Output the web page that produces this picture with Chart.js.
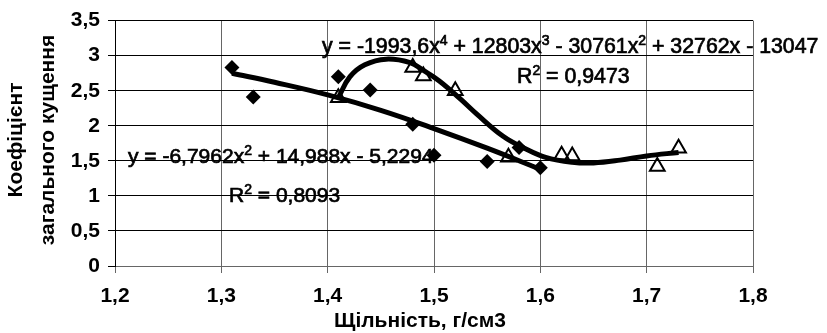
<!DOCTYPE html>
<html><head><meta charset="utf-8">
<script src="https://cdn.jsdelivr.net/npm/chart.js@4"></script>
<style>html,body{margin:0;padding:0;background:#fff}#wrap{width:827px;height:333px}</style>
</head><body><div id="wrap"><canvas id="c" width="827" height="333"></canvas></div>
<script>
// ---- data ----
const diamondX = [1.31, 1.33, 1.41, 1.44, 1.48, 1.50, 1.55, 1.58, 1.60];
const diamondY = [2.83, 2.41, 2.70, 2.51, 2.02, 1.58, 1.49, 1.69, 1.40];
const triangleX = [1.41, 1.48, 1.49, 1.52, 1.57, 1.62, 1.63, 1.71, 1.73];
const triangleY = [2.40, 2.83, 2.71, 2.50, 1.55, 1.58, 1.57, 1.42, 1.68];
// trendlines
const trend2X = [1.31, 1.35, 1.40, 1.45, 1.50, 1.55, 1.60];
const trend2Y = [2.75, 2.62, 2.44, 2.22, 1.96, 1.68, 1.38];
const trend4X = [1.41, 1.421, 1.435, 1.455, 1.4775, 1.49, 1.505, 1.525, 1.54, 1.565, 1.585, 1.605, 1.63, 1.65, 1.675, 1.70, 1.73];
const trend4Y = [2.40, 2.70, 2.87, 2.95, 2.90, 2.79, 2.64, 2.38, 2.17, 1.85, 1.68, 1.55, 1.48, 1.47, 1.51, 1.57, 1.62];
const xTickLabels = ['1,2', '1,3', '1,4', '1,5', '1,6', '1,7', '1,8'];
const yTickLabels = ['0', '0,5', '1', '1,5', '2', '2,5', '3', '3,5'];
const xTitle = 'Щільність, г/см3';
const yTitleLines = ['Коефіцієнт', 'загального кущення'];
const eq4 = [['y = -1993,6x', 0], ['4', 1], [' + 12803x', 0], ['3', 1], [' - 30761x', 0], ['2', 1], [' + 32762x - 13047', 0]];
const r4 = [['R', 0], ['2', 1], [' = 0,9473', 0]];
const eq2 = [['y = -6,7962x', 0], ['2', 1], [' + 14,988x - 5,2294', 0]];
const r2 = [['R', 0], ['2', 1], [' = 0,8093', 0]];

const FONT = '"Liberation Sans", Arial, sans-serif';
const pts = (xs, ys) => xs.map((x, i) => ({ x: x, y: ys[i] }));

function drawRich(ctx, parts, x, y, size, supSize, supRise) {
  let cx = x;
  ctx.textAlign = 'left';
  ctx.textBaseline = 'alphabetic';
  ctx.lineWidth = 0.7;
  ctx.strokeStyle = '#000';
  for (const [t, sup] of parts) {
    const yy = sup ? y - supRise : y;
    ctx.font = (sup ? supSize : size) + 'px ' + FONT;
    ctx.fillText(t, cx, yy);
    ctx.strokeText(t, cx, yy);
    cx += ctx.measureText(t).width;
  }
}

const textPlugin = {
  id: 'texts',
  afterDraw(chart) {
    const ctx = chart.ctx;
    ctx.save();
    ctx.fillStyle = '#000';
    drawRich(ctx, eq4, 322, 53, 21.3, 14, 8);
    drawRich(ctx, r4, 517, 83, 21.3, 14, 8);
    drawRich(ctx, eq2, 128, 163, 21, 14, 8);
    drawRich(ctx, r2, 229, 202, 21, 14, 8);
    // axis titles
    ctx.font = 'bold 21px ' + FONT;
    ctx.textAlign = 'center';
    ctx.textBaseline = 'alphabetic';
    ctx.fillText(xTitle, 420, 327);
    ctx.textBaseline = 'middle';
    const cols = [16, 48];
    yTitleLines.forEach((t, i) => {
      ctx.save();
      ctx.translate(cols[i], 140);
      ctx.rotate(-Math.PI / 2);
      ctx.fillText(t, 0, 0);
      ctx.restore();
    });
    ctx.restore();
  }
};

new Chart(document.getElementById('c'), {
  type: 'scatter',
  data: {
    datasets: [
      { data: pts(diamondX, diamondY), pointStyle: 'rectRot', pointRadius: 7.5, pointHoverRadius: 7.5,
        backgroundColor: '#000', borderColor: '#000', borderWidth: 0, order: 2 },
      { data: pts(triangleX, triangleY), pointStyle: 'triangle', pointRadius: 8.5, pointHoverRadius: 8.5,
        backgroundColor: 'rgba(0,0,0,0)', borderColor: '#000', borderWidth: 2, order: 2 },
      { data: pts(trend2X, trend2Y), showLine: true, pointRadius: 0, borderColor: '#000', borderWidth: 5,
        tension: 0.4, borderCapStyle: 'butt', order: 1 },
      { data: pts(trend4X, trend4Y), showLine: true, pointRadius: 0, borderColor: '#000', borderWidth: 5,
        tension: 0.4, borderCapStyle: 'butt', order: 1 }
    ]
  },
  options: {
    responsive: false,
    animation: false,
    devicePixelRatio: 1,
    layout: { padding: { top: 15, right: 74, left: 0, bottom: 0 } },
    plugins: { legend: { display: false }, tooltip: { enabled: false } },
    scales: {
      x: {
        type: 'linear', min: 1.2, max: 1.8,
        afterFit: s => { s.height = 67; },
        ticks: { stepSize: 0.1, autoSkip: false, maxRotation: 0, padding: 11, color: '#000',
          font: { family: FONT, size: 21, weight: 'bold' },
          callback: (v, i) => xTickLabels[i] },
        grid: { color: '#666', lineWidth: 1, tickLength: 7, drawTicks: true },
        border: { color: '#666', width: 1 }
      },
      y: {
        type: 'linear', min: 0, max: 3.5,
        afterFit: s => { s.width = 115; },
        ticks: { stepSize: 0.5, autoSkip: false, padding: 8, color: '#000',
          font: { family: FONT, size: 21, weight: 'bold' },
          callback: (v, i) => yTickLabels[i] },
        grid: { color: '#000', lineWidth: 1, tickLength: 7, drawTicks: true },
        border: { color: '#000', width: 1 }
      }
    }
  },
  plugins: [textPlugin]
});
</script>
</body></html>
